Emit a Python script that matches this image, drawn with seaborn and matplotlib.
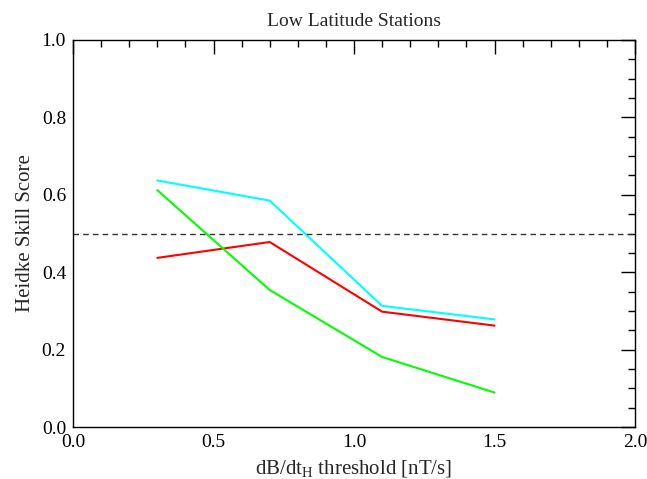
import matplotlib
matplotlib.use("Agg")
import matplotlib.pyplot as plt
import seaborn as sns
import pandas as pd
from matplotlib.ticker import MultipleLocator

thresholds = [0.3, 0.7, 1.1, 1.5]
cyan_vals = [0.637, 0.585, 0.313, 0.278]
red_vals = [0.437, 0.478, 0.298, 0.262]
green_vals = [0.612, 0.354, 0.181, 0.089]
series_names = ["cyan", "red", "green"]
colors = ["#00FFFF", "#FF0000", "#00FF00"]
ref_level = 0.5

sns.set_theme(style="white")
plt.rcParams['font.family'] = ['Liberation Serif', 'DejaVu Serif']
plt.rcParams['mathtext.fontset'] = 'custom'
plt.rcParams['mathtext.rm'] = 'Liberation Serif'
plt.rcParams['mathtext.it'] = 'Liberation Serif:italic'

rows = []
for name, vals in zip(series_names, [cyan_vals, red_vals, green_vals]):
    for x, v in zip(thresholds, vals):
        rows.append({"x": x, "y": v, "s": name})
df = pd.DataFrame(rows)

fig = plt.figure(figsize=(6.47, 4.79), dpi=100)
ax = fig.add_axes([73/647, 52/479, 562/647, 387/479])
sns.lineplot(data=df, x="x", y="y", hue="s", palette=colors, hue_order=series_names,
             ax=ax, legend=False, linewidth=1.5)
ax.axhline(ref_level, color="#333333", linestyle=(0, (4, 3)), linewidth=1.0)

ax.set_xlim(0, 2.0)
ax.set_ylim(0, 1.0)
ax.xaxis.set_major_locator(MultipleLocator(0.5))
ax.xaxis.set_minor_locator(MultipleLocator(0.1))
ax.yaxis.set_major_locator(MultipleLocator(0.2))
ax.yaxis.set_minor_locator(MultipleLocator(0.05))
ax.xaxis.set_major_formatter(matplotlib.ticker.FormatStrFormatter('%.1f'))
ax.yaxis.set_major_formatter(matplotlib.ticker.FormatStrFormatter('%.1f'))
ax.tick_params(which="both", direction="in", top=True, right=True, colors="black",
               labelsize=14, width=1)
ax.tick_params(which="major", length=10)
ax.tick_params(axis="x", which="major", pad=5)
ax.tick_params(axis="y", which="major", pad=5)
ax.tick_params(which="minor", length=5)
for sp in ax.spines.values():
    sp.set_color("black")
    sp.set_linewidth(1.0)

ax.set_title("Low Latitude Stations", fontsize=14, pad=10)
ax.set_xlabel(r"dB/dt$_\mathrm{H}$ threshold [nT/s]", fontsize=15, labelpad=5)
ax.set_ylabel("Heidke Skill Score", fontsize=15, labelpad=5)

fig.savefig("out.png", dpi=100)
